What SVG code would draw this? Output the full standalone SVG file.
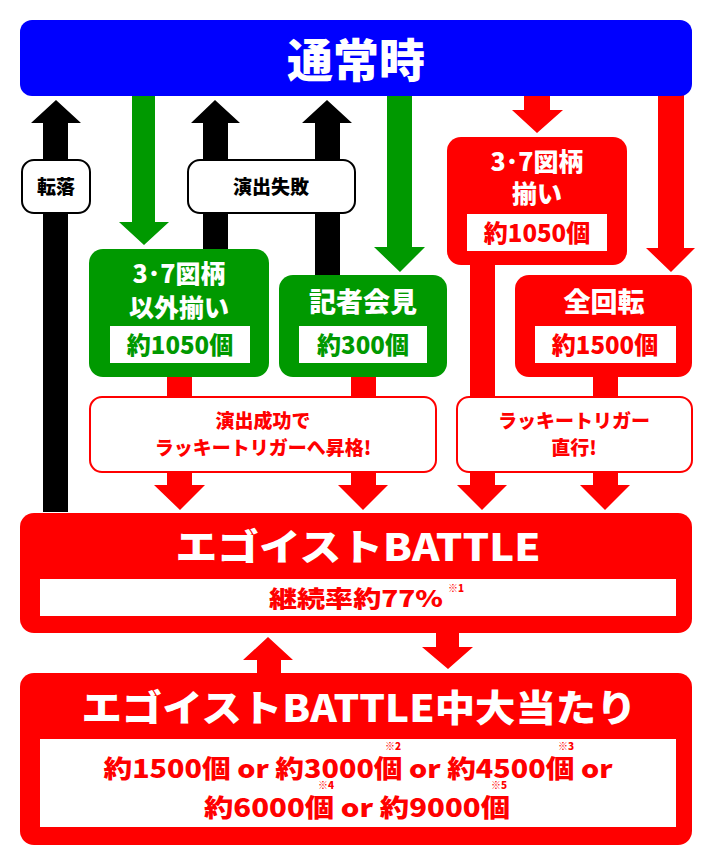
<svg xmlns="http://www.w3.org/2000/svg" width="712" height="866" viewBox="0 0 712 866">
<style>
text{font-family:"Noto Sans CJK JP","Liberation Sans",sans-serif;font-weight:900;text-anchor:middle}
.w{fill:#fff}.r{fill:#f00}.g{fill:#009900}.k{fill:#000}
.lbl{fill:#fff;stroke:#f00;stroke-width:2}
.lblk{fill:#fff;stroke:#000;stroke-width:2}
</style>
<rect width="712" height="866" fill="#fff"/>
<g id="connectors">
  <polygon class="k" points="43,512 68,512 68,123 81,123 56,100 31,123 43,123"/>
  <polygon class="k" points="203,250 228,250 228,123 240,123 215,100 191,123 203,123"/>
  <polygon class="k" points="315,275 340,275 340,123 352,123 327,100 302,123 315,123"/>
  <polygon class="g" points="132,95 155,95 155,222 169,222 144,245 119,222 132,222"/>
  <polygon class="g" points="387,95 412,95 412,247 425,247 400,272 374,247 387,247"/>
  <polygon class="r" points="524,95 550,95 550,110 563,110 537,133 512,110 524,110"/>
  <polygon class="r" points="658,95 684,95 684,248 695,248 671,272 646,248 658,248"/>
  <polygon class="r" points="470,265 495,265 495,485 507,485 482,510 457,485 470,485"/>
  <polygon class="r" points="167,377 192,377 192,485 205,485 180,510 154,485 167,485"/>
  <polygon class="r" points="351,377 376,377 376,485 388,485 363,510 338,485 351,485"/>
  <polygon class="r" points="593,377 618,377 618,485 630,485 605,510 580,485 593,485"/>
  <polygon class="r" points="257,673 281,673 281,660 293,660 268,637 243,660 257,660"/>
  <polygon class="r" points="436,633 459,633 459,647 473,647 448,669 422,647 436,647"/>
</g>
<g id="tsujo">
  <rect x="20" y="20" width="672" height="76" rx="12" fill="#0000ff"/>
  <text class="w" x="356" y="77" font-size="46">通常時</text>
</g>
<g id="tenraku">
  <rect class="lblk" x="22" y="160" width="68" height="53" rx="12"/>
  <text class="k" x="56" y="194" font-size="19">転落</text>
</g>
<g id="shippai">
  <rect class="lblk" x="188" y="160" width="167" height="53" rx="12"/>
  <text class="k" x="271" y="194" font-size="19">演出失敗</text>
</g>
<g id="green1">
  <rect class="g" x="89" y="249" width="180" height="128" rx="14"/>
  <text class="w" x="179" y="283" font-size="25">3･7図柄</text>
  <text class="w" x="179" y="317" font-size="25">以外揃い</text>
  <rect class="w" x="110" y="326" width="140" height="37"/>
  <text class="g" x="180" y="354" font-size="24">約1050個</text>
</g>
<g id="kisha">
  <rect class="g" x="279" y="275" width="168" height="102" rx="14"/>
  <text class="w" x="363" y="312" font-size="27">記者会見</text>
  <rect class="w" x="299" y="326" width="128" height="37"/>
  <text class="g" x="363" y="354" font-size="24">約300個</text>
</g>
<g id="red37">
  <rect class="r" x="447" y="137" width="180" height="128" rx="14"/>
  <text class="w" x="537" y="171" font-size="25">3･7図柄</text>
  <text class="w" x="537" y="203" font-size="25">揃い</text>
  <rect class="w" x="467" y="214" width="140" height="37"/>
  <text class="r" x="537" y="242" font-size="24">約1050個</text>
</g>
<g id="zenkaiten">
  <rect class="r" x="515" y="275" width="177" height="102" rx="14"/>
  <text class="w" x="604" y="312" font-size="27">全回転</text>
  <rect class="w" x="535" y="326" width="141" height="37"/>
  <text class="r" x="605" y="354" font-size="24">約1500個</text>
</g>
<g id="seiko">
  <rect class="lbl" x="90" y="397" width="346" height="75" rx="12"/>
  <text class="r" x="263" y="428" font-size="19">演出成功で</text>
  <text class="r" x="263" y="455" font-size="19">ラッキートリガーへ昇格!</text>
</g>
<g id="chokko">
  <rect class="lbl" x="457" y="397" width="235" height="75" rx="12"/>
  <text class="r" x="574" y="428" font-size="19">ラッキートリガー</text>
  <text class="r" x="574" y="455" font-size="19">直行!</text>
</g>
<g id="battle">
  <rect class="r" x="20" y="513" width="672" height="120" rx="14"/>
  <text class="w" x="358" y="561" font-size="37" textLength="365" lengthAdjust="spacingAndGlyphs">エゴイストBATTLE</text>
  <rect class="w" x="40" y="579" width="636" height="37"/>
  <text class="r" x="356" y="607" font-size="23" textLength="174" lengthAdjust="spacingAndGlyphs">継続率約77%</text>
  <text class="r" x="456" y="592" font-size="10">※1</text>
</g>
<g id="battlehit">
  <rect class="r" x="20" y="673" width="672" height="172" rx="14"/>
  <text class="w" x="359" y="722" font-size="37" textLength="555" lengthAdjust="spacingAndGlyphs">エゴイストBATTLE中大当たり</text>
  <rect class="w" x="40" y="739" width="636" height="88"/>
  <text class="r" x="358" y="778" font-size="25" textLength="509" lengthAdjust="spacingAndGlyphs">約1500個 or 約3000個 or 約4500個 or</text>
  <text class="r" x="357" y="817" font-size="25" textLength="306" lengthAdjust="spacingAndGlyphs">約6000個 or 約9000個</text>
  <text class="r" x="393" y="750" font-size="10">※2</text>
  <text class="r" x="566" y="750" font-size="10">※3</text>
  <text class="r" x="326" y="789" font-size="10">※4</text>
  <text class="r" x="499" y="789" font-size="10">※5</text>
</g>
</svg>
